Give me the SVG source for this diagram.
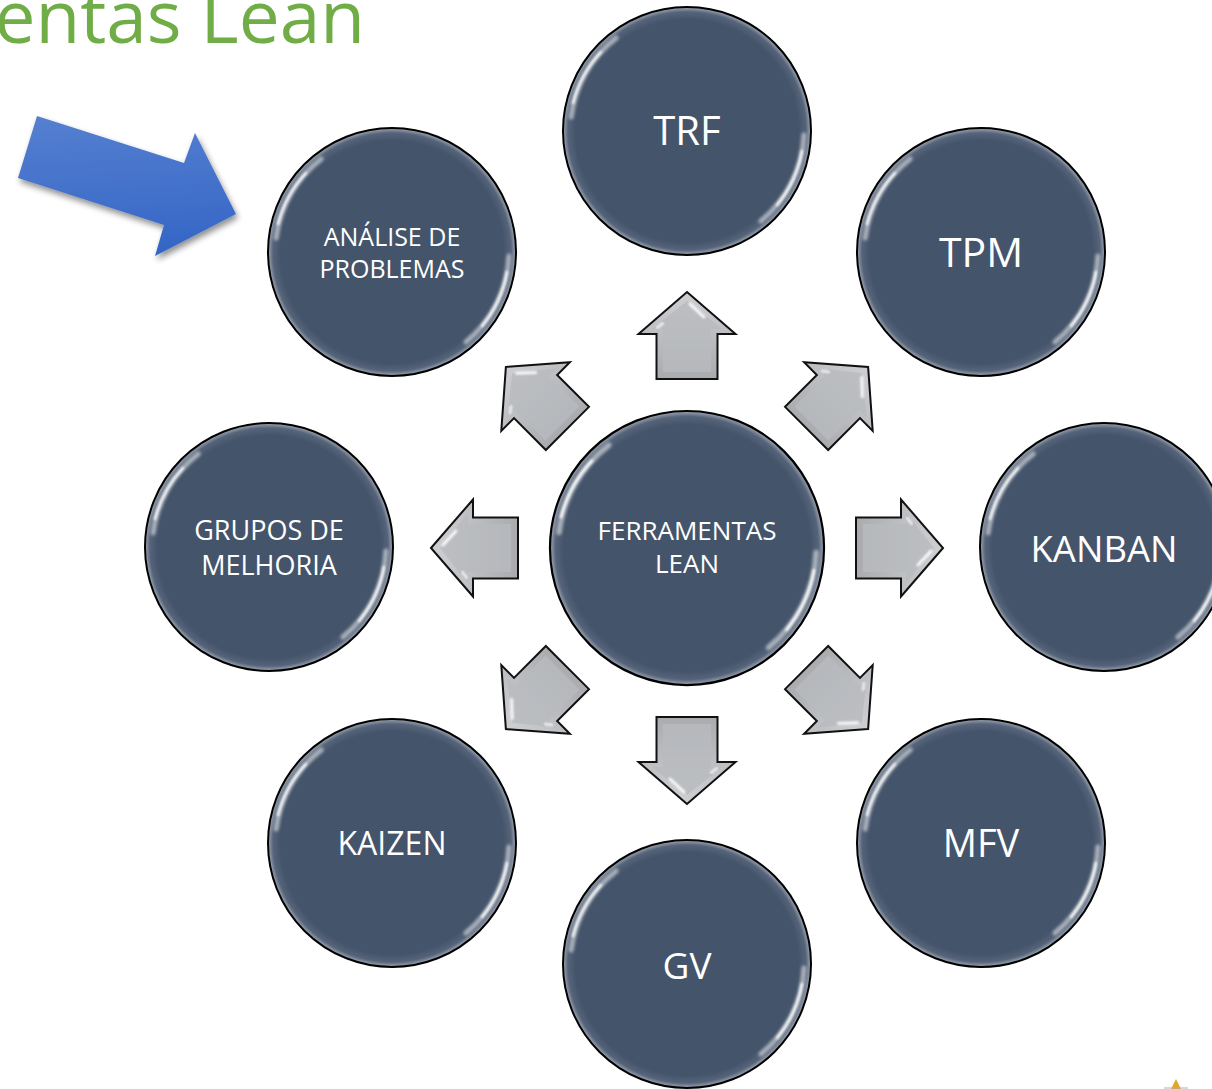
<svg xmlns="http://www.w3.org/2000/svg" xmlns:xlink="http://www.w3.org/1999/xlink" width="1212" height="1089" viewBox="0 0 1212 1089">
<style>
.lbl{font-family:"Open Sans","Noto Sans","DejaVu Sans",sans-serif;fill:#ffffff;text-anchor:middle}
.title{font-family:"Open Sans","Noto Sans","DejaVu Sans",sans-serif;fill:#70ad47;font-size:73px;text-anchor:end}
</style>
<defs>
<radialGradient id="cg" cx="0.5" cy="0.5" r="0.5">
<stop offset="0" stop-color="#44546a"/>
<stop offset="0.9" stop-color="#44546a"/>
<stop offset="0.96" stop-color="#56647a"/>
<stop offset="0.99" stop-color="#8e98a6"/>
<stop offset="1" stop-color="#a9b0ba"/>
</radialGradient>
<linearGradient id="ag" x1="0" y1="0" x2="0" y2="1">
<stop offset="0" stop-color="#cfd0d3"/>
<stop offset="1" stop-color="#a9abaf"/>
</linearGradient>
<linearGradient id="bg" x1="0.2" y1="0" x2="0.3" y2="1">
<stop offset="0" stop-color="#557fd0"/>
<stop offset="1" stop-color="#3566c6"/>
</linearGradient>
<filter id="blur1" x="-20%" y="-20%" width="140%" height="140%"><feGaussianBlur stdDeviation="1.5"/></filter>
<filter id="blur2" x="-20%" y="-20%" width="140%" height="140%"><feGaussianBlur stdDeviation="0.8"/></filter>
<filter id="shadow" x="-20%" y="-20%" width="150%" height="160%">
<feGaussianBlur in="SourceAlpha" stdDeviation="3"/>
<feOffset dx="2" dy="4" result="o"/>
<feComponentTransfer><feFuncA type="linear" slope="0.45"/></feComponentTransfer>
<feMerge><feMergeNode/><feMergeNode in="SourceGraphic"/></feMerge>
</filter>
<g id="bubble">
<circle r="124" fill="url(#cg)" stroke="#000" stroke-width="2"/>
<g fill="none" stroke="#ffffff" stroke-linecap="round">
<path d="M-115.8,-14 A117,117 0 0 1 -70.8,-93" stroke-width="5" opacity="0.5" filter="url(#blur1)"/>
<path d="M-114,-28 A117,117 0 0 1 -86,-79" stroke-width="2.5" opacity="0.95" filter="url(#blur2)"/>
<path d="M116.9,4 A117,117 0 0 1 73.9,90" stroke-width="5" opacity="0.5" filter="url(#blur1)"/>
<path d="M115,20 A117,117 0 0 1 90,74" stroke-width="2.5" opacity="0.95" filter="url(#blur2)"/>
</g>
</g>
<g id="arw">
<path d="M0,-44 L48.5,-2 L30.5,-2 L30.5,43 L-30.5,43 L-30.5,-2 L-48.5,-2 Z" fill="url(#ag)" stroke="#111" stroke-width="2"/>
<path d="M0,-35 L35,-7 L24,-7 L24,36 L-24,36 L-24,-7 L-35,-7 Z" fill="#b8babe" opacity="0.8"/>
<g fill="none" stroke="#ffffff" stroke-linecap="round">
<path d="M3,-32 L17,-19" stroke-width="3" opacity="0.95" filter="url(#blur2)"/>
<path d="M-30,-8 L-24,-13" stroke-width="2.5" opacity="0.8" filter="url(#blur2)"/>
<path d="M-20,31 L26,31" stroke-width="3" opacity="0.95" filter="url(#blur2)"/>
<path d="M25,-2 L25,34" stroke-width="1.5" opacity="0.5" filter="url(#blur2)"/>
</g>
</g>
</defs>
<rect width="1212" height="1089" fill="#ffffff"/>
<text class="title" x="365" y="43">entas Lean</text>
<polygon points="37,116 184,163 195,133 236,214 155,256 164,225 18,178" fill="url(#bg)" filter="url(#shadow)"/>
<g id="connectors">
<use xlink:href="#arw" transform="translate(687,336)"/>
<use xlink:href="#arw" transform="translate(837,398) rotate(45)"/>
<use xlink:href="#arw" transform="translate(899,548) rotate(90)"/>
<use xlink:href="#arw" transform="translate(837,698) rotate(135)"/>
<use xlink:href="#arw" transform="translate(687,760) rotate(180)"/>
<use xlink:href="#arw" transform="translate(537,698) rotate(225)"/>
<use xlink:href="#arw" transform="translate(475,548) rotate(270)"/>
<use xlink:href="#arw" transform="translate(537,398) rotate(315)"/>
</g>
<g id="node-center">
<use xlink:href="#bubble" transform="translate(687,548) scale(1.105)"/>
<text class="lbl" x="687" y="540" font-size="26">FERRAMENTAS</text>
<text class="lbl" x="687" y="573" font-size="26">LEAN</text>
</g>
<g id="node-trf">
<use xlink:href="#bubble" transform="translate(687,131)"/>
<text class="lbl" x="687" y="145" font-size="40">TRF</text>
</g>
<g id="node-tpm">
<use xlink:href="#bubble" transform="translate(981,252)"/>
<text class="lbl" x="981" y="267" font-size="41">TPM</text>
</g>
<g id="node-kanban">
<use xlink:href="#bubble" transform="translate(1104,547)"/>
<text class="lbl" x="1104" y="562" font-size="36.5">KANBAN</text>
</g>
<g id="node-mfv">
<use xlink:href="#bubble" transform="translate(981,843)"/>
<text class="lbl" x="981" y="857" font-size="38">MFV</text>
</g>
<g id="node-gv">
<use xlink:href="#bubble" transform="translate(687,964)"/>
<text class="lbl" x="687" y="979" font-size="37">GV</text>
</g>
<g id="node-kaizen">
<use xlink:href="#bubble" transform="translate(392,843)"/>
<text class="lbl" x="392" y="855" font-size="32">KAIZEN</text>
</g>
<g id="node-grupos">
<use xlink:href="#bubble" transform="translate(269,547)"/>
<text class="lbl" x="269" y="540" font-size="27">GRUPOS DE</text>
<text class="lbl" x="269" y="575" font-size="27">MELHORIA</text>
</g>
<g id="node-analise">
<use xlink:href="#bubble" transform="translate(392,252)"/>
<text class="lbl" x="392" y="246" font-size="25">ANÁLISE DE</text>
<text class="lbl" x="392" y="278" font-size="25">PROBLEMAS</text>
</g>
<polygon points="1176,1079 1171,1089 1181,1089" fill="#e0a82a"/>
<line x1="1164" y1="1088" x2="1188" y2="1088" stroke="#b0b0b0" stroke-width="1"/>
</svg>
